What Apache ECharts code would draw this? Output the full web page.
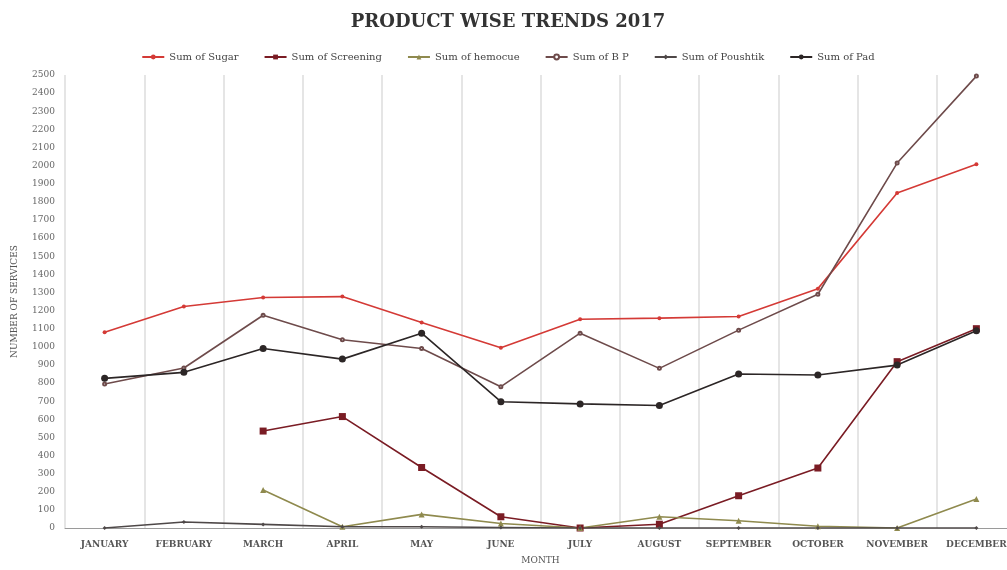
<!DOCTYPE html>
<html>
<head>
<meta charset="utf-8">
<script src="https://cdn.jsdelivr.net/npm/echarts@6/dist/echarts.min.js"></script>
<style>
  html, body { margin: 0; padding: 0; background: #ffffff; overflow: hidden; width: 1007px; height: 570px; }
  /* the plot runs slightly past the right edge of the page, clipping DECEMBER */
  #chart { width: 1016px; height: 570px; }
</style>
</head>
<body>
<div id="chart"></div>
<script>
// Monthly service counts per product, 2017
const months = ['JANUARY', 'FEBRUARY', 'MARCH', 'APRIL', 'MAY', 'JUNE', 'JULY',
                'AUGUST', 'SEPTEMBER', 'OCTOBER', 'NOVEMBER', 'DECEMBER'];
const sugar     = [1080, 1222, 1272, 1277, 1134, 995, 1152, 1158, 1167, 1321, 1849, 2007];
const screening = [null, null, 535, 615, 334, 62, 0, 21, 178, 331, 918, 1100];
const hemocue   = [null, null, 210, 7, 75, 25, 0, 62, 40, 10, 0, 160];
const bp        = [795, 883, 1174, 1039, 991, 780, 1075, 881, 1092, 1290, 2014, 2494];
const poushtik  = [0, 33, 20, 7, 7, 3, 0, 0, 0, 0, 0, 0];
const pad       = [826, 859, 991, 932, 1075, 697, 685, 676, 850, 844, 899, 1088];
const yTicks = { min: 0, max: 2500, interval: 100 };

const serif = '"DejaVu Serif", "Liberation Serif", serif';

function line(name, data, color, symbol, size) {
  return {
    name: name,
    type: 'line',
    data: data,
    symbol: symbol,
    symbolSize: size,
    connectNulls: false,
    lineStyle: { color: color, width: 1.6 },
    itemStyle: { color: color },
    emphasis: { disabled: true }
  };
}

const chart = echarts.init(document.getElementById('chart'), null, { renderer: 'canvas' });
chart.setOption({
  animation: false,
  backgroundColor: '#ffffff',
  title: {
    text: 'PRODUCT WISE TRENDS 2017',
    left: 'center',
    top: 8,
    textStyle: { fontFamily: serif, fontWeight: 'bold', fontSize: 18, color: '#333333' }
  },
  legend: {
    top: 47,
    left: 'center',
    itemGap: 25,
    itemWidth: 22,
    itemHeight: 6,
    textStyle: { fontFamily: serif, fontSize: 10, color: '#444444' },
    data: ['Sum of Sugar', 'Sum of Screening', 'Sum of hemocue', 'Sum of B P', 'Sum of Poushtik', 'Sum of Pad']
  },
  grid: { left: 65, top: 75, right: 0, bottom: 40.5, containLabel: false },
  xAxis: {
    type: 'category',
    data: months,
    boundaryGap: true,
    name: 'MONTH',
    nameLocation: 'middle',
    nameGap: 28,
    nameTextStyle: { fontFamily: serif, fontSize: 9, color: '#555555' },
    axisLine: { lineStyle: { color: '#9a9a9a', width: 1 } },
    axisTick: { show: false },
    axisLabel: { fontFamily: serif, fontSize: 9, fontWeight: 'bold', color: '#555555', margin: 12, interval: 0 },
    splitLine: { show: true, lineStyle: { color: '#dcdcdc', width: 1.5 } }
  },
  yAxis: {
    type: 'value',
    min: yTicks.min,
    max: yTicks.max,
    interval: yTicks.interval,
    name: 'NUMBER OF SERVICES',
    nameLocation: 'middle',
    nameGap: 46,
    nameTextStyle: { fontFamily: serif, fontSize: 9, color: '#555555' },
    axisLine: { show: false },
    axisTick: { show: false },
    splitLine: { show: false },
    axisLabel: {
      fontFamily: serif, fontSize: 9, color: '#666666', margin: 10,
      formatter: function (v) { return String(v); }
    }
  },
  series: [
    line('Sum of Sugar', sugar, '#d43a36', 'circle', 4),
    line('Sum of Screening', screening, '#7a1c24', 'rect', 7),
    line('Sum of hemocue', hemocue, '#8f8a4e', 'triangle', 6),
    line('Sum of B P', bp, '#6e4b4b', 'emptyCircle', 3),
    line('Sum of Poushtik', poushtik, '#4e4848', 'diamond', 4),
    line('Sum of Pad', pad, '#2c2626', 'circle', 7)
  ]
});
</script>
</body>
</html>
